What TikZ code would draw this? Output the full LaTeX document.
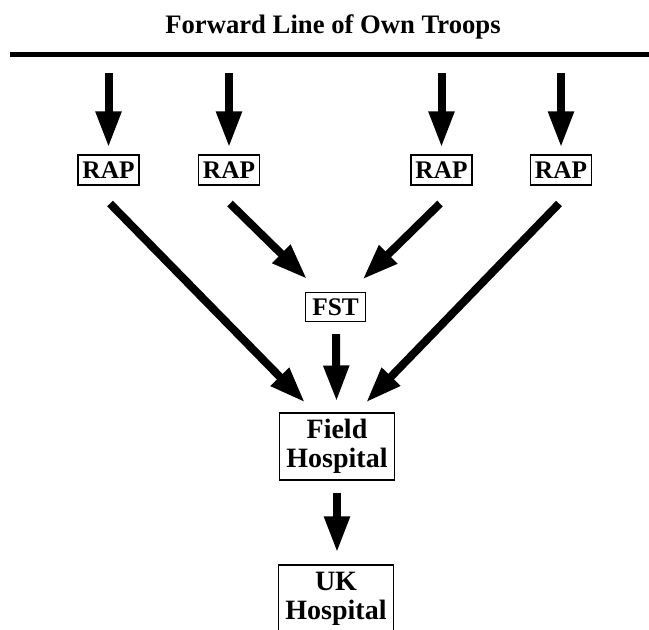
\documentclass[tikz,border=0pt]{standalone}
\usepackage{fontspec}
\setmainfont{Liberation Serif}
\usetikzlibrary{arrows.meta,calc}
\begin{document}
\begin{tikzpicture}[x=0.75pt,y=-0.75pt,
  box/.style={draw,line width=0.8pt,inner sep=0pt,align=center,font=\bfseries},
  smallbox/.style={box,minimum width=45.75pt,minimum height=22.5pt,font=\fontsize{19}{20}\selectfont\bfseries},
  bigbox/.style={box,minimum width=86.25pt,minimum height=50.25pt,font=\fontsize{21}{21.5}\selectfont\bfseries},
  arr/.style={line width=6pt,-{Triangle[length=27pt,width=18pt]}}]
\useasboundingbox (0,0) rectangle (649,630);
\node[anchor=base,font=\fontsize{20}{22}\selectfont\bfseries] (title) at (333,34) {Forward Line of Own Troops};
\coordinate (la) at (10,54.5);
\coordinate (lb) at (652,54.5);
\draw[line width=3.9pt] (la) -- (lb);
\node[smallbox] (rap1) at (108.5,170) {RAP};
\node[smallbox] (rap2) at (229,170) {RAP};
\node[smallbox] (rap3) at (441.5,170) {RAP};
\node[smallbox] (rap4) at (561,170) {RAP};
\node[smallbox,minimum width=45pt,minimum height=21.75pt] (fst) at (335.5,307) {FST};
\node[bigbox] (field) at (337,446.5) {Field\\Hospital};
\node[bigbox] (uk) at (336,598.5) {UK\\Hospital};
\coordinate (f1) at (108.5,73);
\coordinate (f2) at (229,73);
\coordinate (f3) at (441.5,73);
\coordinate (f4) at (561,73);
\foreach \i in {1,...,4}{\draw[arr,shorten >=5.25pt] (f\i) -- (rap\i.north);}
\draw[arr] ($(rap1.south)+(1.5,18)$) -- ($(field.north west)+(26,-10)$);
\draw[arr] ($(rap2.south)+(1,18)$) -- ($(fst.north west)+(2,-13)$);
\draw[arr] ($(rap3.south)+(-1.5,18)$) -- ($(fst.north east)+(-3.5,-12.5)$);
\draw[arr] ($(rap4.south)+(-2,18)$) -- ($(field.north east)+(-29,-10)$);
\draw[arr] ($(fst.south)+(0.5,12)$) -- ($(field.north)+(-0.5,-11)$);
\draw[arr] ($(field.south)+(0,12)$) -- ($(uk.north)+(1,-12)$);
\end{tikzpicture}
\end{document}
